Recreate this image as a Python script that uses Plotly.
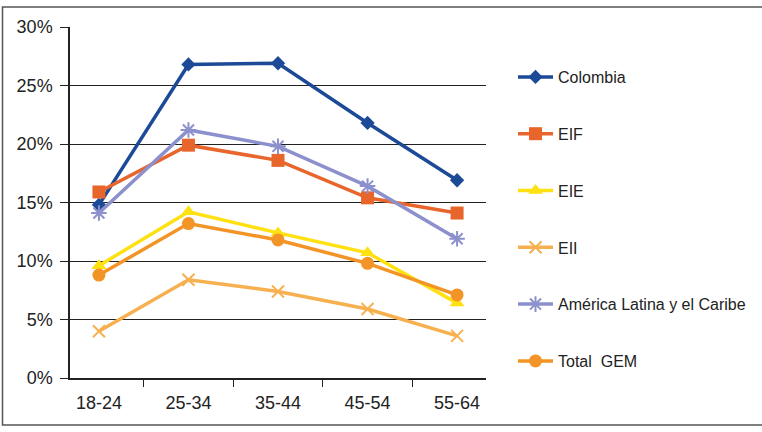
import plotly.graph_objects as go

categories = ["18-24", "25-34", "35-44", "45-54", "55-64"]
colombia = [14.8, 26.8, 26.9, 21.8, 16.9]
eif = [15.9, 19.9, 18.6, 15.4, 14.1]
eie = [9.6, 14.2, 12.4, 10.7, 6.4]
eii = [4.0, 8.4, 7.4, 5.9, 3.6]
alc = [14.1, 21.2, 19.8, 16.4, 11.9]
total_gem = [8.8, 13.2, 11.8, 9.8, 7.1]

series = [
    ("Colombia", colombia, "#1C4A97", "diamond", 11, None),
    ("EIF", eif, "#E8652B", "square", 13, None),
    ("EIE", eie, "#FFE010", "triangle-up", 13, None),
    ("EII", eii, "#F7B04F", "x-thin-open", 12, 2),
    ("América Latina y el Caribe", alc, "#8C90CC", "asterisk-open", 13, 2),
    ("Total  GEM", total_gem, "#F39426", "circle", 13, None),
]

fig = go.Figure()
for i, (name, vals, color, sym, size, lw) in enumerate(series):
    marker = dict(symbol=sym, size=size, color=color)
    if lw:
        marker["line"] = dict(color=color, width=lw)
    fig.add_trace(go.Scatter(
        x=categories, y=vals, name=name, mode="lines+markers",
        line=dict(color=color, width=3.5), marker=marker,
        legendgroup=f"g{i}",
    ))

font_family = "Liberation Sans, Arial, sans-serif"

fig.update_layout(
    width=762, height=432,
    margin=dict(l=70, r=276, t=27, b=54, autoexpand=False),
    paper_bgcolor="white", plot_bgcolor="white",
    font=dict(family=font_family, size=17, color="#222"),
    showlegend=True,
    legend=dict(
        x=(513 - 70) / 416, y=(378 - 60) / 351, xanchor="left", yanchor="top",
        font=dict(family=font_family, size=16, color="#222"),
        tracegroupgap=33, itemwidth=35, bgcolor="rgba(0,0,0,0)",
    ),
    xaxis=dict(
        type="category", showgrid=False, showline=True, linecolor="#222", linewidth=1.5,
        ticks="outside", ticklen=7, tickcolor="#222", tickson="boundaries",
        tickfont=dict(size=18), ticklabelstandoff=8,
    ),
    yaxis=dict(
        range=[0, 30], dtick=5, ticksuffix="%", showgrid=True, gridcolor="#222",
        gridwidth=1, showline=True, linecolor="#222", linewidth=1.5,
        ticks="outside", ticklen=8, tickcolor="#222", zeroline=False,
        tickfont=dict(size=18), ticklabelstandoff=4,
    ),
    shapes=[dict(
        type="rect", xref="paper", yref="paper",
        x0=(2.5 - 70) / 416, x1=(775 - 70) / 416,
        y0=(378 - 425) / 351, y1=(378 - 7) / 351,
        line=dict(color="#555", width=1.5),
    )],
)

fig.write_html("out.html", config={"displayModeBar": False},
               post_script="document.body.style.margin='0';")
